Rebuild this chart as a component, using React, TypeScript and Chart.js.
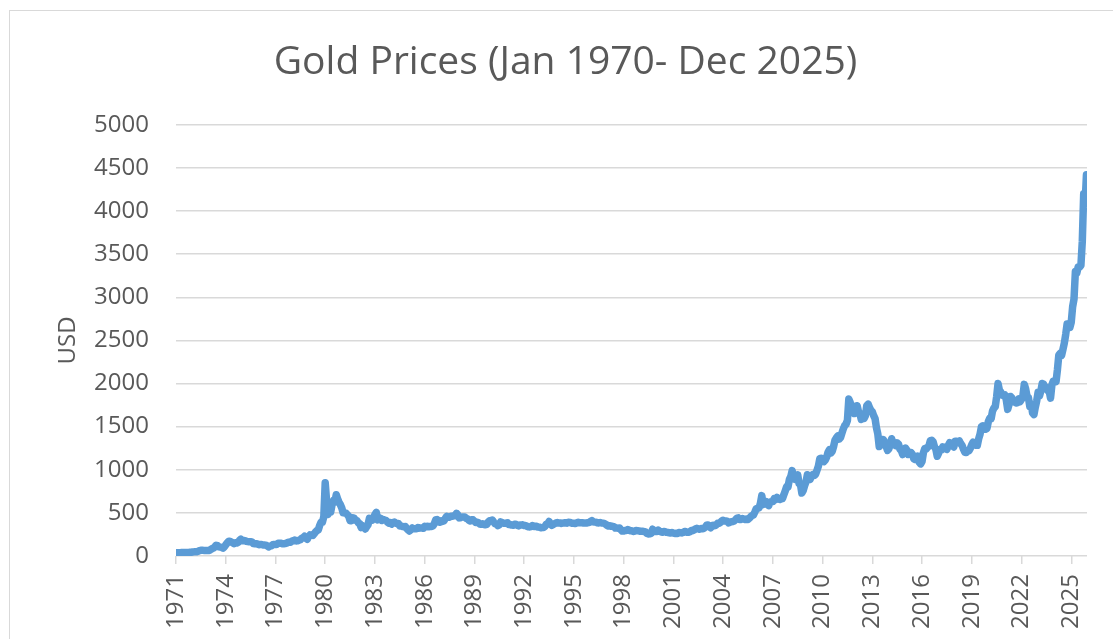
import React, { useEffect, useRef } from "react";
import { Chart, registerables } from "chart.js";

Chart.register(...registerables);

// Monthly gold price (USD/oz), starting January 1971
const startYear = 1971;
const prices1970s = [
  38, 38, 39, 39, 40, 40, 41, 42, 42, 42, 43, 43,
  46, 48, 48, 49, 55, 62, 66, 67, 65, 65, 63, 64,
  65, 74, 84, 91, 102, 125, 120, 106, 103, 100, 92, 106,
  129, 150, 168, 172, 163, 154, 143, 154, 151, 158, 181, 195,
  176, 180, 178, 170, 167, 164, 165, 163, 144, 142, 142, 139,
  131, 132, 133, 128, 127, 126, 118, 105, 114, 117, 131, 134,
  132, 136, 148, 149, 147, 141, 143, 145, 149, 158, 162, 160,
  173, 178, 184, 175, 176, 183, 188, 206, 212, 228, 206, 194,
  227, 245, 242, 239, 257, 279, 295, 301, 355, 392, 392, 456,
];
const prices1980s = [
  850, 640, 480, 517, 513, 600, 644, 627, 710, 662, 623, 595,
  557, 500, 499, 496, 480, 461, 409, 410, 443, 437, 413, 410,
  384, 374, 330, 350, 333, 314, 339, 364, 436, 422, 415, 444,
  481, 505, 419, 432, 438, 413, 422, 416, 412, 394, 381, 388,
  370, 386, 394, 381, 377, 378, 347, 347, 341, 340, 341, 320,
  303, 290, 304, 325, 316, 317, 317, 330, 323, 326, 325, 321,
  345, 339, 346, 340, 342, 343, 348, 376, 418, 423, 398, 391,
  408, 401, 408, 438, 460, 450, 450, 460, 460, 466, 467, 495,
  477, 442, 444, 452, 451, 452, 437, 432, 413, 406, 420, 419,
  404, 388, 390, 384, 371, 367, 375, 365, 362, 367, 394, 409,
];
const prices1990s = [
  410, 417, 393, 374, 369, 352, 362, 395, 389, 380, 381, 378,
  384, 364, 363, 358, 357, 367, 368, 356, 349, 359, 360, 361,
  354, 354, 345, 338, 337, 341, 353, 343, 345, 344, 335, 334,
  329, 329, 330, 342, 367, 372, 400, 378, 355, 365, 374, 383,
  387, 382, 384, 378, 381, 385, 385, 381, 391, 389, 384, 379,
  379, 376, 382, 391, 385, 387, 386, 383, 383, 383, 386, 387,
  400, 410, 396, 393, 392, 385, 383, 387, 383, 381, 378, 369,
  355, 347, 352, 344, 344, 341, 324, 324, 323, 325, 306, 289,
  289, 297, 296, 308, 299, 292, 293, 284, 289, 296, 294, 291,
  287, 287, 286, 282, 277, 261, 256, 257, 264, 311, 293, 283,
];
const prices2000s = [
  284, 300, 286, 280, 275, 285, 282, 274, 273, 270, 266, 272,
  266, 262, 263, 260, 272, 270, 268, 273, 283, 283, 276, 276,
  282, 296, 294, 302, 314, 322, 314, 310, 319, 317, 319, 333,
  356, 359, 340, 328, 355, 356, 351, 360, 379, 379, 389, 407,
  414, 405, 406, 404, 384, 392, 398, 400, 406, 420, 439, 442,
  424, 423, 434, 429, 422, 430, 424, 438, 456, 470, 476, 510,
  549, 555, 557, 610, 700, 596, 633, 632, 598, 585, 627, 629,
  631, 665, 655, 679, 667, 655, 665, 665, 713, 754, 806, 803,
  889, 922, 990, 909, 888, 889, 940, 839, 829, 730, 760, 816,
  858, 943, 924, 890, 929, 945, 934, 949, 996, 1043, 1127, 1134,
];
const prices2010s = [
  1118, 1095, 1113, 1148, 1205, 1232, 1193, 1215, 1271, 1343, 1370, 1391,
  1356, 1372, 1424, 1474, 1512, 1529, 1573, 1820, 1780, 1665, 1739, 1652,
  1656, 1743, 1674, 1650, 1585, 1596, 1594, 1626, 1744, 1760, 1721, 1688,
  1671, 1627, 1593, 1487, 1414, 1270, 1286, 1352, 1348, 1316, 1275, 1225,
  1244, 1300, 1360, 1299, 1287, 1279, 1311, 1296, 1239, 1222, 1176, 1202,
  1251, 1227, 1179, 1198, 1199, 1181, 1128, 1118, 1125, 1159, 1086, 1068,
  1097, 1199, 1246, 1242, 1260, 1276, 1337, 1341, 1326, 1266, 1238, 1157,
  1192, 1234, 1231, 1266, 1246, 1260, 1237, 1283, 1315, 1280, 1283, 1265,
  1331, 1331, 1325, 1334, 1303, 1282, 1238, 1202, 1199, 1215, 1221, 1250,
  1291, 1320, 1300, 1285, 1283, 1359, 1413, 1500, 1510, 1495, 1471, 1480,
];
const prices2020s = [
  1560, 1597, 1592, 1680, 1715, 1732, 1847, 2000, 1921, 1900, 1866, 1858,
  1867, 1808, 1700, 1760, 1850, 1834, 1807, 1785, 1775, 1777, 1821, 1790,
  1816, 1856, 1990, 1937, 1849, 1837, 1733, 1765, 1660, 1640, 1726, 1798,
  1898, 1855, 1913, 2000, 1992, 1943, 1951, 1918, 1916, 1830, 1985, 2027,
  2034, 2024, 2160, 2330, 2350, 2325, 2395, 2470, 2570, 2690, 2650, 2650,
  2710, 2890, 2980, 3300, 3280, 3350, 3350, 3370, 3650, 4200, 4080, 4420,
];

const xTickYears = [
  1971, 1974, 1977, 1980, 1983, 1986, 1989, 1992, 1995, 1998,
  2001, 2004, 2007, 2010, 2013, 2016, 2019, 2022, 2025,
];
const yTicks = [0, 500, 1000, 1500, 2000, 2500, 3000, 3500, 4000, 4500, 5000];

const chartTitle = "Gold Prices (Jan 1970- Dec 2025)";
const yAxisTitle = "USD";

const FONT = "'Open Sans', 'Noto Sans', sans-serif";
const TEXT = "#595959";
const GRID = "#d9d9d9";
const LINE = "#5B9BD5";

// The source chart's frame is wider than the visible crop, so its title sits right of the plot centre.
const titleShift = {
  id: "titleShift",
  afterLayout(chart: any) {
    const t = chart.titleBlock;
    if (t) t.left += 34;
  },
};

export default function App() {
  const ref = useRef<HTMLCanvasElement | null>(null);

  useEffect(() => {
    if (!ref.current) return;
    const all = [
      ...prices1970s,
      ...prices1980s,
      ...prices1990s,
      ...prices2000s,
      ...prices2010s,
      ...prices2020s,
    ];
    const points = all.map((v, i) => ({ x: startYear + i / 12, y: v }));

    const chart = new Chart(ref.current, {
      type: "line",
      data: {
        datasets: [
          {
            data: points,
            borderColor: LINE,
            backgroundColor: LINE,
            borderWidth: 7.5,
            pointRadius: 0,
            tension: 0,
            borderJoinStyle: "round",
            borderCapStyle: "round",
            fill: false,
          },
        ],
      },
      plugins: [titleShift],
      options: {
        animation: false,
        responsive: false,
        events: [],
        layout: { padding: { left: 0, right: 26, top: 0, bottom: 0 } },
        plugins: {
          legend: { display: false },
          tooltip: { enabled: false },
          title: {
            display: true,
            text: chartTitle,
            color: TEXT,
            font: { family: FONT, size: 39, weight: "normal" },
            padding: { top: 28, bottom: 39 },
          },
        },
        scales: {
          x: {
            type: "linear",
            min: startYear,
            max: 2025.95,
            afterBuildTicks: (s: any) => {
              s.ticks = xTickYears.map((v) => ({ value: v }));
            },
            afterFit: (s: any) => {
              s.height = 83;
            },
            ticks: {
              autoSkip: false,
              minRotation: 90,
              maxRotation: 90,
              padding: 10,
              color: TEXT,
              font: { family: FONT, size: 24 },
              callback: (v: any) => String(v),
            },
            grid: {
              drawOnChartArea: false,
              drawTicks: true,
              tickLength: 8,
              color: GRID,
              lineWidth: 1.5,
            },
            border: { display: false },
          },
          y: {
            type: "linear",
            min: 0,
            max: 5000,
            afterBuildTicks: (s: any) => {
              s.ticks = yTicks.map((v) => ({ value: v }));
            },
            afterFit: (s: any) => {
              s.width = 166;
            },
            ticks: {
              padding: 27,
              color: TEXT,
              font: { family: FONT, size: 24 },
              callback: (v: any) => String(v),
            },
            grid: { color: GRID, lineWidth: 1.5, drawTicks: false },
            border: { display: false },
            title: {
              display: true,
              text: yAxisTitle,
              color: TEXT,
              font: { family: FONT, size: 24 },
              padding: { top: 44, bottom: 0 },
            },
          },
        },
      },
    });
    return () => chart.destroy();
  }, []);

  return (
    <div
      style={{
        position: "absolute",
        left: 9,
        top: 10,
        width: 1104,
        height: 629,
        borderLeft: "1px solid #d9d9d9",
        borderTop: "1px solid #d9d9d9",
        boxSizing: "border-box",
        background: "#fff",
        overflow: "hidden",
      }}
    >
      <canvas
        ref={ref}
        width={1103}
        height={628}
        style={{ display: "block", width: 1103, height: 628 }}
      />
    </div>
  );
}
